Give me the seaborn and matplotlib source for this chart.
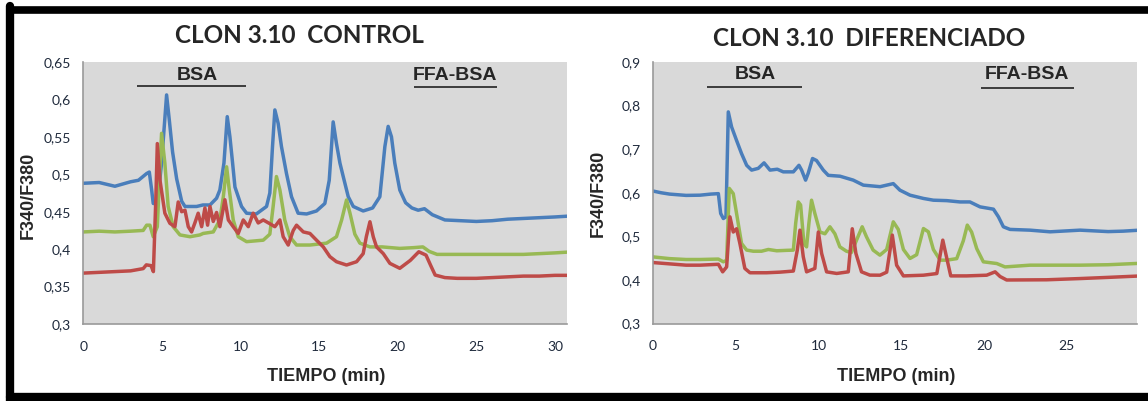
import matplotlib
matplotlib.use('Agg')
import matplotlib.pyplot as plt
import seaborn as sns
from matplotlib.ticker import FuncFormatter, MultipleLocator
from matplotlib.lines import Line2D

# --- datos (tiempo en min, razon F340/F380) ---
# CLON 3.10 CONTROL
ctrl_t_azul = [0, 1, 2.0, 3, 3.5, 4.02, 4.19, 4.34, 4.44, 4.70, 4.97, 5.29, 5.46, 5.67, 5.93,
               6.25, 6.46, 7.2, 7.6, 8.05, 8.47, 8.68, 8.94, 9.15, 9.32, 9.49, 9.64, 10.06,
               10.38, 11.0, 11.65, 11.86, 12.03, 12.18, 12.39, 12.6, 12.92, 13.24, 13.66,
               14.2, 14.83, 15.36, 15.64, 15.89, 16.1, 16.32, 16.53, 16.85, 17.17, 17.8,
               18.4, 18.86, 19.18, 19.39, 19.6, 19.81, 20.13, 20.5, 20.9, 21.3, 21.7, 22.2,
               23, 24, 25, 26, 27, 28, 29, 30, 30.77]
ctrl_azul = [0.488, 0.489, 0.484, 0.490, 0.492, 0.501, 0.503, 0.479, 0.461, 0.461, 0.515,
             0.606, 0.573, 0.530, 0.494, 0.464, 0.457, 0.457, 0.459, 0.459, 0.468, 0.479,
             0.515, 0.577, 0.550, 0.515, 0.483, 0.457, 0.448, 0.447, 0.457, 0.475, 0.537,
             0.586, 0.568, 0.537, 0.501, 0.470, 0.448, 0.447, 0.451, 0.461, 0.492, 0.570,
             0.541, 0.515, 0.497, 0.470, 0.457, 0.451, 0.455, 0.470, 0.537, 0.564, 0.550,
             0.515, 0.479, 0.462, 0.455, 0.452, 0.454, 0.446, 0.439, 0.438, 0.437, 0.438,
             0.440, 0.441, 0.442, 0.443, 0.444]

ctrl_t_verde = [0, 1, 2, 3, 3.8, 4.02, 4.23, 4.44, 4.70, 4.83, 4.97, 5.18, 5.39, 5.71, 6.14,
                6.78, 7.41, 7.62, 8.26, 8.68, 8.9, 9.11, 9.28, 9.53, 9.85, 10.38, 11.44,
                11.86, 12.07, 12.28, 12.5, 12.81, 13.13, 13.56, 14.41, 15.47, 16.1, 16.43,
                16.74, 16.96, 17.27, 17.59, 18.23, 19, 20.13, 21, 21.6, 22.0, 22.5, 24, 26,
                28, 30, 30.77]
ctrl_verde = [0.423, 0.424, 0.423, 0.424, 0.425, 0.432, 0.432, 0.4166, 0.430, 0.492, 0.5547,
              0.515, 0.457, 0.430, 0.419, 0.4166, 0.419, 0.421, 0.423, 0.439, 0.470, 0.510,
              0.479, 0.439, 0.4166, 0.410, 0.412, 0.420, 0.457, 0.497, 0.479, 0.439, 0.4166,
              0.4055, 0.4055, 0.408, 0.4166, 0.439, 0.4657, 0.448, 0.420, 0.408, 0.403,
              0.403, 0.401, 0.402, 0.403, 0.397, 0.393, 0.393, 0.393, 0.393, 0.395, 0.396]

ctrl_t_rojo = [0, 1, 2, 3, 3.8, 4.0, 4.3, 4.45, 4.61, 4.70, 4.87, 5.18, 5.5, 5.82, 6.03, 6.25,
               6.46, 6.67, 6.88, 7.09, 7.30, 7.52, 7.73, 7.9, 8.05, 8.26, 8.47, 8.68, 9.0,
               9.22, 9.53, 9.85, 10.17, 10.49, 10.8, 11.12, 11.44, 11.86, 12.18, 12.5, 12.71,
               13.03, 13.35, 13.56, 13.99, 14.41, 14.83, 15.26, 15.68, 16.1, 16.74, 17.38,
               17.8, 18.0, 18.23, 18.44, 18.65, 19.08, 19.5, 20.13, 20.8, 21.34, 21.8, 22.1,
               22.38, 23, 23.78, 25, 26, 27, 28, 29, 30, 30.77]
ctrl_rojo = [0.368, 0.369, 0.370, 0.371, 0.374, 0.379, 0.378, 0.370, 0.470, 0.541, 0.492,
             0.448, 0.4345, 0.430, 0.463, 0.450, 0.452, 0.430, 0.423, 0.435, 0.448, 0.430,
             0.455, 0.432, 0.457, 0.437, 0.449, 0.430, 0.466, 0.439, 0.430, 0.421, 0.439,
             0.430, 0.448, 0.435, 0.439, 0.434, 0.430, 0.439, 0.4166, 0.4055, 0.425, 0.432,
             0.423, 0.421, 0.412, 0.403, 0.390, 0.3832, 0.3788, 0.3832, 0.394, 0.4166,
             0.4366, 0.4166, 0.403, 0.394, 0.381, 0.3744, 0.385, 0.3965, 0.392, 0.378,
             0.3654, 0.362, 0.361, 0.361, 0.362, 0.363, 0.364, 0.364, 0.365, 0.365]

# CLON 3.10 DIFERENCIADO
dif_t_azul = [0, 0.5, 1, 2, 2.84, 3.5, 3.95, 4.09, 4.25, 4.41, 4.55, 4.75, 5.05, 5.35, 5.66,
              5.96, 6.36, 6.71, 7.07, 7.51, 7.87, 8.48, 8.82, 8.98, 9.22, 9.38, 9.64, 9.88,
              10.29, 10.59, 11.3, 12.1, 12.71, 13.72, 14.52, 14.92, 15.53, 16.34, 16.94,
              17.75, 18.55, 19.15, 19.76, 20.57, 20.87, 21.17, 21.57, 22.78, 23.99, 25.8,
              27.5, 28.4, 29.27]
dif_azul = [0.604, 0.600, 0.597, 0.594, 0.5945, 0.597, 0.598, 0.5526, 0.541, 0.545, 0.7855,
            0.751, 0.720, 0.690, 0.663, 0.652, 0.656, 0.6686, 0.652, 0.654, 0.648, 0.648,
            0.663, 0.652, 0.629, 0.645, 0.6786, 0.674, 0.652, 0.640, 0.638, 0.629, 0.6175,
            0.614, 0.621, 0.606, 0.5945, 0.587, 0.583, 0.582, 0.579, 0.579, 0.5677, 0.5624,
            0.545, 0.522, 0.516, 0.5143, 0.5105, 0.5143, 0.511, 0.512, 0.514]

dif_t_verde = [0, 1, 2, 2.84, 3.95, 4.25, 4.45, 4.61, 4.85, 5.05, 5.35, 5.66, 6.06, 6.56,
               6.97, 7.48, 8.08, 8.48, 8.62, 8.78, 8.92, 9.12, 9.28, 9.42, 9.58, 9.78, 10.09,
               10.39, 10.69, 10.99, 11.29, 11.69, 11.99, 12.3, 12.64, 12.9, 13.3, 13.71,
               14.12, 14.52, 14.82, 15.13, 15.53, 15.93, 16.34, 16.64, 16.94, 17.35, 17.75,
               18.35, 18.75, 18.99, 19.25, 19.56, 19.96, 20.77, 21.27, 22.78, 25.8, 27.5,
               29.27]
dif_verde = [0.453, 0.449, 0.447, 0.447, 0.448, 0.4417, 0.445, 0.610, 0.598, 0.5526, 0.4838,
             0.4686, 0.466, 0.466, 0.470, 0.467, 0.468, 0.4685, 0.5296, 0.579, 0.572,
             0.4838, 0.476, 0.530, 0.583, 0.5526, 0.510, 0.506, 0.522, 0.506, 0.476, 0.466,
             0.463, 0.4915, 0.522, 0.499, 0.4686, 0.457, 0.470, 0.5333, 0.516, 0.470,
             0.4494, 0.458, 0.518, 0.5105, 0.470, 0.4455, 0.4455, 0.449, 0.490, 0.5258,
             0.510, 0.472, 0.4417, 0.4378, 0.430, 0.434, 0.434, 0.435, 0.438]

dif_t_rojo = [0, 2, 2.84, 3.95, 4.21, 4.45, 4.65, 4.85, 5.05, 5.25, 5.55, 5.86, 6.86, 7.67,
              8.48, 8.72, 8.88, 9.08, 9.28, 9.78, 9.99, 10.19, 10.49, 11.1, 11.8, 12.04,
              12.26, 12.6, 13.1, 13.72, 14.12, 14.46, 14.72, 15.13, 16.34, 17.15, 17.51,
              17.75, 17.99, 18.95, 20.16, 20.67, 20.97, 21.37, 23.79, 25.8, 27.5, 29.27]
dif_rojo = [0.440, 0.434, 0.434, 0.436, 0.4187, 0.430, 0.5448, 0.510, 0.5175, 0.4838,
            0.4265, 0.4166, 0.4166, 0.418, 0.4205, 0.4686, 0.5143, 0.4533, 0.4187, 0.4265,
            0.510, 0.4609, 0.4187, 0.415, 0.4187, 0.5175, 0.4609, 0.4187, 0.4112, 0.411,
            0.418, 0.503, 0.434, 0.4094, 0.411, 0.4148, 0.4914, 0.450, 0.4094, 0.4094,
            0.411, 0.4187, 0.408, 0.400, 0.4005, 0.4033, 0.406, 0.409]

AZUL, ROJO, VERDE = '#4a7ebb', '#be4b48', '#98b954'

sns.set_style('white')
plt.rcParams['font.family'] = ['Lato', 'DejaVu Sans']

fig = plt.figure(figsize=(11.48, 4.01), dpi=100)
ax1 = fig.add_axes([0.0727, 0.192, 0.4212, 0.6534])
ax2 = fig.add_axes([0.5688, 0.193, 0.4220, 0.6525])

coma = FuncFormatter(lambda v, p: ('%g' % round(v, 3)).replace('.', ','))


def panel(ax, series, xmax, ymin, ymax, ystep):
    for t, v, c in series:
        sns.lineplot(x=t, y=v, ax=ax, color=c, lw=2.5, sort=False, estimator=None)
    ax.set_facecolor('#d9d9d9')
    ax.set_xlim(0, xmax)
    ax.set_ylim(ymin, ymax)
    ax.xaxis.set_major_locator(MultipleLocator(5))
    ax.yaxis.set_major_locator(MultipleLocator(ystep))
    ax.yaxis.set_major_formatter(coma)
    for s in ['top', 'right']:
        ax.spines[s].set_visible(False)
    for s in ['left', 'bottom']:
        ax.spines[s].set_color('#9a9a9a')
        ax.spines[s].set_linewidth(1.2)
    ax.tick_params(axis='both', direction='out', length=5, width=1.2, color='#9a9a9a',
                   labelsize=10, labelcolor='#1f2a3c', pad=4)
    ax.tick_params(axis='x', pad=7)
    ax.set_xlabel('')
    ax.set_ylabel('')


panel(ax1, [(ctrl_t_azul, ctrl_azul, AZUL), (ctrl_t_verde, ctrl_verde, VERDE),
            (ctrl_t_rojo, ctrl_rojo, ROJO)], 30.77, 0.3, 0.65, 0.05)
panel(ax2, [(dif_t_azul, dif_azul, AZUL), (dif_t_verde, dif_verde, VERDE),
            (dif_t_rojo, dif_rojo, ROJO)], 29.27, 0.3, 0.9, 0.1)

# anotaciones BSA / FFA-BSA
arial = ['Liberation Sans', 'DejaVu Sans']
ax1.text(7.27, 0.6326, 'BSA', ha='center', va='center', fontsize=14, fontweight='bold', family=arial)
ax1.hlines(0.618, 3.38, 10.37, color='#222222', lw=1.2)
ax1.text(23.65, 0.6326, 'FFA-BSA', ha='center', va='center', fontsize=14, fontweight='bold', family=arial)
ax1.hlines(0.616, 21.02, 26.33, color='#222222', lw=1.2)

ax2.text(6.18, 0.872, 'BSA', ha='center', va='center', fontsize=14, fontweight='bold', family=arial)
ax2.hlines(0.842, 3.24, 9.02, color='#222222', lw=1.2)
ax2.text(22.6, 0.872, 'FFA-BSA', ha='center', va='center', fontsize=14, fontweight='bold', family=arial)
ax2.hlines(0.840, 19.8, 25.44, color='#222222', lw=1.2)

# titulos y etiquetas
fig.text(0.2605, 0.9127, 'CLON 3.10  CONTROL', ha='center', va='center', fontsize=17.5, fontweight='bold')
fig.text(0.757, 0.905, 'CLON 3.10  DIFERENCIADO', ha='center', va='center', fontsize=17.5, fontweight='bold')
for xx in [0.284, 0.7805]:
    fig.text(xx, 0.06, 'TIEMPO (min)', ha='center', va='center', fontsize=13,
             fontweight='bold', family=arial)
fig.text(0.025, 0.514, 'F340/F380', ha='center', va='center', rotation=90, fontsize=13,
         fontweight='bold', family=arial)
fig.text(0.5207, 0.518, 'F340/F380', ha='center', va='center', rotation=90, fontsize=13,
         fontweight='bold', family=arial)

# marco negro
H, W = 401.0, 1148.0
fig.add_artist(Line2D([10 / W, 1], [1 - 9.5 / H, 1 - 9.5 / H], color='black', lw=5.5,
                      transform=fig.transFigure))
fig.add_artist(Line2D([10 / W, 10 / W], [0, 1 - 6 / H], color='black', lw=6,
                      transform=fig.transFigure))
fig.add_artist(Line2D([10 / W, 1], [4 / H, 4 / H], color='black', lw=6,
                      transform=fig.transFigure))

fig.savefig('out.png', dpi=100)
